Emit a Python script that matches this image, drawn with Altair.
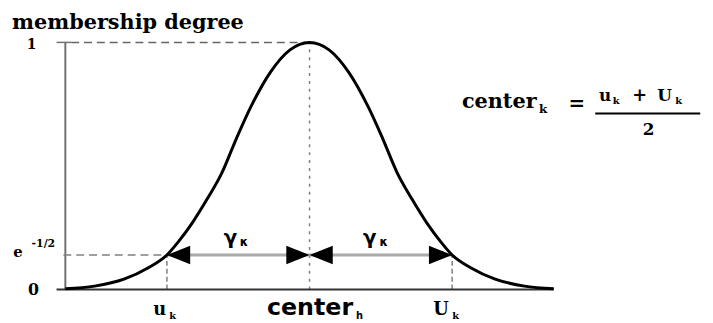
import altair as alt
import pandas as pd

# ---- data (x: 0 = vertical axis, 100 = right end of curve; y: membership) ----
curve_x = [0, 6, 12, 17, 20.8, 23, 26, 29, 32, 35, 38, 42, 46, 50,
           54, 58, 62, 65, 68, 71, 74, 77, 79.2, 83, 88, 94, 100]
curve_y = [0.003, 0.014, 0.042, 0.088, 0.14, 0.19, 0.27, 0.365, 0.47, 0.61, 0.74, 0.88, 0.97, 1.0,
           0.97, 0.88, 0.74, 0.61, 0.47, 0.365, 0.27, 0.19, 0.14, 0.088, 0.042, 0.014, 0.003]

u_k = 20.8
center = 50
U_k = 79.2
e_level = 0.14

arrow_x = [u_k, center, center, U_k]
arrow_dir = ["left", "right", "left", "right"]

SERIF = "DejaVu Serif"
SANS = "DejaVu Sans"

xs = alt.Scale(domain=[0, 100], nice=False, zero=False)
ys = alt.Scale(domain=[0, 1], nice=False, zero=False)
X = alt.X("x:Q", scale=xs, axis=None)
X2 = alt.X2("x2:Q")
Y = alt.Y("y:Q", scale=ys, axis=None)
Y2 = alt.Y2("y2:Q")

def hrule(x1, x2, y, color, width, dash=None):
    df = pd.DataFrame({"x": [x1], "x2": [x2], "y": [y]})
    kw = dict(color=color, strokeWidth=width)
    if dash:
        kw["strokeDash"] = dash
    return alt.Chart(df).mark_rule(**kw).encode(x=X, x2=X2, y=Y)

def vrule(x, y1, y2, color, width, dash=None):
    df = pd.DataFrame({"x": [x], "y": [y1], "y2": [y2]})
    kw = dict(color=color, strokeWidth=width)
    if dash:
        kw["strokeDash"] = dash
    return alt.Chart(df).mark_rule(**kw).encode(x=X, y=Y, y2=Y2)

def txt(texts, xvals, yvals, size, font, align="center", baseline="alphabetic"):
    df = pd.DataFrame({"t": texts, "x": xvals, "y": yvals})
    return alt.Chart(df).mark_text(fontSize=size, font=font, fontWeight="bold", align=align,
                                   baseline=baseline, color="black").encode(x=X, y=Y, text="t:N")

layers = []
# guide lines
layers.append(vrule(0, 0, 1, "#707070", 2))
layers.append(hrule(-1.8, 1.2, 1, "#707070", 1.5))
layers.append(hrule(1.2, center, 1, "#666666", 1.5, [8, 5]))
layers.append(hrule(-0.4, u_k, e_level, "#808080", 1.5, [8, 5]))
layers.append(vrule(u_k, 0, e_level, "#808080", 1.5, [5, 3]))
layers.append(vrule(U_k, 0, e_level, "#808080", 1.5, [5, 3]))
layers.append(vrule(center, 0, 1, "#808080", 1.5, [3, 5]))
layers.append(hrule(-1.8, 100, 0, "#333333", 2))
# arrow shaft
layers.append(hrule(u_k, U_k, e_level, "#aaaaaa", 3))

# curve
curve_df = pd.DataFrame({"x": curve_x, "y": curve_y})
layers.append(alt.Chart(curve_df).mark_line(color="black", strokeWidth=3, interpolate="monotone")
              .encode(x=X, y=Y))

# arrow heads
PATH_R = "M0,0L-1,-0.4L-1,0.4Z"
PATH_L = "M0,0L1,-0.4L1,0.4Z"
arr_df = pd.DataFrame({"x": arrow_x, "y": [e_level] * 4, "dir": arrow_dir})
layers.append(alt.Chart(arr_df).mark_point(filled=True, color="black", opacity=1, strokeWidth=0, size=2209)
              .encode(x=X, y=Y,
                      shape=alt.Shape("dir:N", scale=alt.Scale(domain=["left", "right"], range=[PATH_L, PATH_R]),
                                      legend=None)))

# y labels
layers.append(txt(["membership degree"], [-10.9], [1.056], 21, SERIF, align="left"))
layers.append(txt(["1"], [-6.9], [0.99], 14, SERIF, baseline="middle"))
layers.append(txt(["0"], [-6.5], [0.0], 16, SERIF, baseline="middle"))
layers.append(txt(["e"], [-9.7], [0.132], 15, SERIF))
layers.append(txt(["-1/2"], [-4.5], [0.172], 11, SERIF))

# x labels
layers.append(txt(["u"], [19.3], [-0.104], 18, SERIF))
layers.append(txt(["k"], [21.3], [-0.12], 10, SERIF, align="left"))
layers.append(txt(["center"], [50.1], [-0.104], 24, SANS))
layers.append(txt(["h"], [59.5], [-0.12], 10, SANS, align="left"))
layers.append(txt(["U"], [76.9], [-0.104], 18, SERIF))
layers.append(txt(["k"], [79.2], [-0.12], 10, SERIF, align="left"))

# gamma labels
layers.append(txt(["γ", "γ"], [33.8, 62.35], [0.184, 0.184], 20, SANS))
layers.append(txt(["κ", "κ"], [35.7, 64.3], [0.178, 0.178], 12, SANS, align="left"))

# formula
layers.append(txt(["center"], [81.2], [0.736], 21, SERIF, align="left"))
layers.append(txt(["k"], [97.0], [0.716], 12, SERIF, align="left"))
layers.append(txt(["="], [104.7], [0.752], 20, SERIF, baseline="middle"))
layers.append(txt(["u", "U"], [110.5, 122.7], [0.764, 0.764], 17, SERIF))
layers.append(txt(["k", "k"], [112.1, 124.9], [0.752, 0.752], 10, SERIF, align="left"))
layers.append(txt(["+"], [117.6], [0.784], 18, SERIF, baseline="middle"))
layers.append(hrule(108.5, 130.0, 0.712, "black", 2))
layers.append(txt(["2"], [119.4], [0.624], 17, SERIF))

chart = alt.layer(*layers).properties(
    width=494, height=250,
    autosize=alt.AutoSizeParams(type="none"),
    padding={"left": 58, "top": 33, "right": 153, "bottom": 30},
    background="white",
).configure_view(stroke=None)

chart.save("out.html", embed_options={"renderer": "svg", "actions": False})
